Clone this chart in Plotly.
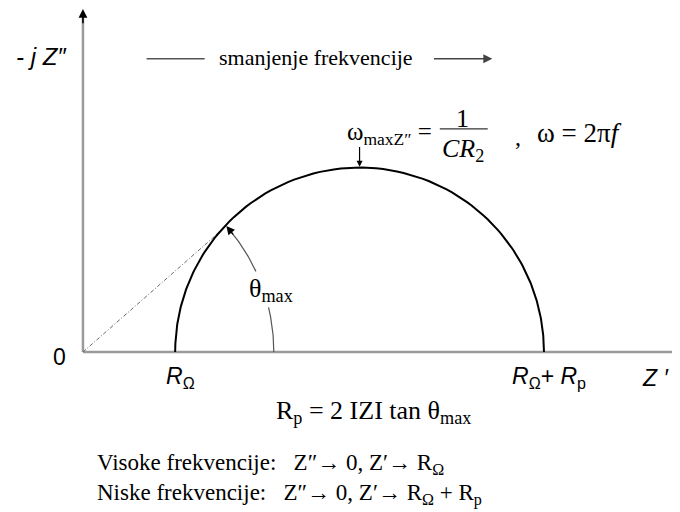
import numpy as np
import plotly.graph_objects as go

# equivalent circuit values (arbitrary units)
r_omega = 1.0          # R_Omega
r_p = 4.0              # R_p
cap = 1e-3             # C
theta_max_deg = 41.3   # angle of the dashed line
theta_arc_r = 2.07     # radius of the theta arc
theta_arc_gap = [13.5, 25.0]
theta_arc_end = 40.5

# frequencies for the Nyquist curve
omega = np.logspace(-3, 7, 600)

SANS = "Liberation Sans, Arial, sans-serif"
SERIF = "Liberation Serif, Times New Roman, serif"
NB = "\u00a0"

# impedance of R_omega + (R_p || C)
z = r_omega + r_p / (1 + 1j * omega * r_p * cap)
z_re = z.real
z_im = -z.imag

fig = go.Figure()

# axes
fig.add_trace(go.Scatter(x=[0, 0], y=[0, 3.66], mode='lines',
                         line=dict(color='#9a9a9a', width=2.5), hoverinfo='skip'))
fig.add_trace(go.Scatter(x=[0, 7], y=[0, 0], mode='lines',
                         line=dict(color='#9a9a9a', width=2.5), hoverinfo='skip'))

# dashed line to the curve
th = np.deg2rad(theta_max_deg)
c0 = r_omega + r_p / 2
rad = r_p / 2
b = -2 * c0 * np.cos(th)
cc = c0 ** 2 - rad ** 2
disc = max(b ** 2 - 4 * cc, 0)
t_hit = (-b - np.sqrt(disc)) / 2
fig.add_trace(go.Scatter(x=[0, t_hit * np.cos(th)], y=[0, t_hit * np.sin(th)],
                         mode='lines', line=dict(color='#6a6a6a', width=1, dash='4px,2px,1px,2px'),
                         hoverinfo='skip'))

# Nyquist semicircle
fig.add_trace(go.Scatter(x=z_re, y=z_im, mode='lines',
                         line=dict(color='black', width=2), hoverinfo='skip'))

# theta arc (two pieces, gap for the label)
for a0, a1 in [(0, theta_arc_gap[0]), (theta_arc_gap[1], theta_arc_end)]:
    ang = np.deg2rad(np.linspace(a0, a1, 40))
    fig.add_trace(go.Scatter(x=theta_arc_r * np.cos(ang), y=theta_arc_r * np.sin(ang),
                             mode='lines', line=dict(color='#555555', width=1.2),
                             hoverinfo='skip'))

anns = []
# arrow heads
anns.append(dict(x=0, y=3.72, ax=0, ay=3.55, xref='x', yref='y', axref='x', ayref='y',
                 showarrow=True, arrowhead=2, arrowsize=1.1, arrowwidth=1.6,
                 arrowcolor='black', text=''))
a_head = np.deg2rad(theta_arc_end + 0.8)
a_tail = np.deg2rad(theta_arc_end - 3)
anns.append(dict(x=theta_arc_r * np.cos(a_head), y=theta_arc_r * np.sin(a_head),
                 ax=theta_arc_r * np.cos(a_tail), ay=theta_arc_r * np.sin(a_tail),
                 xref='x', yref='y', axref='x', ayref='y',
                 showarrow=True, arrowhead=2, arrowsize=1.2, arrowwidth=1.4,
                 arrowcolor='black', text=''))
# arrow to the top of the semicircle
anns.append(dict(x=c0, y=rad + 0.01, ax=c0, ay=rad + 0.24, xref='x', yref='y',
                 axref='x', ayref='y', showarrow=True, arrowhead=2, arrowsize=1,
                 arrowwidth=1.2, arrowcolor='black', text=''))
# "smanjenje frekvencije" arrows
fig.add_trace(go.Scatter(x=[0.69, 1.32], y=[3.18, 3.18], mode='lines',
                         line=dict(color='#555555', width=1.5), hoverinfo='skip'))
anns.append(dict(x=4.44, y=3.18, ax=3.79, ay=3.18, xref='x', yref='y', axref='x',
                 ayref='y', showarrow=True, arrowhead=2, arrowsize=1.2, arrowwidth=1.5,
                 arrowcolor='#444444', text=''))


def txt(x, y, s, size, font=SERIF, xanchor='center', color='black'):
    anns.append(dict(x=x, y=y, xref='x', yref='y', text=s, showarrow=False,
                     xanchor=xanchor, yanchor='middle',
                     font=dict(family=font, size=size, color=color)))


txt(-0.45, 3.20, "<i>- j Z\u2033</i>", 24, SANS)
txt(2.53, 3.19, "smanjenje frekvencije", 22)
txt(-0.25, -0.05, "0", 23, SANS)
txt(r_omega + 0.06, -0.28, "<i>R</i><sub>\u03a9</sub>", 23, SANS)
txt(r_omega + r_p + 0.05, -0.28, "<i>R</i><sub>\u03a9</sub>+ <i>R</i><sub>p</sub>", 23, SANS)
txt(6.20, -0.28, "<i>Z" + NB + "\u2032</i>", 23, SANS)
txt(3.15, -0.65, "R<sub>p</sub> = 2 IZI tan \u03b8<sub>max</sub>", 26)
txt(0.13, -1.21, "Visoke frekvencije:" + NB * 3 + "Z\u2033\u2192 0, Z\u2032\u2192 R<sub>\u03a9</sub>", 23,
    xanchor='left')
txt(0.13, -1.54, "Niske frekvencije:" + NB * 3 + "Z\u2033\u2192 0, Z\u2032\u2192 R<sub>\u03a9</sub> + R<sub>p</sub>", 23,
    xanchor='left')
txt(2.04, 0.67, "\u03b8<sub>max</sub>", 26)

# omega formula
txt(3.81, 2.37, "\u03c9<sub>maxZ\u2033</sub> =", 25, xanchor='right')
txt(4.12, 2.53, "1", 26)
txt(4.12, 2.19, "<i>CR</i><sub>2</sub>", 26)
txt(4.72, 2.33, ",", 24)
txt(4.90, 2.37, "\u03c9 = 2\u03c0<i>f</i>", 27, xanchor='left')
fig.add_shape(type='line', x0=3.87, x1=4.39, y0=2.42, y1=2.42, xref='x', yref='y',
              line=dict(color='#333333', width=1.3))

# ranges shifted 8px to allow for the page margin
fig.update_layout(
    width=680, height=512,
    margin=dict(l=0, r=0, t=0, b=0),
    paper_bgcolor='white', plot_bgcolor='white',
    showlegend=False,
    xaxis=dict(range=[-0.813, 6.562], visible=False, fixedrange=True),
    yaxis=dict(range=[-1.822, 3.731], visible=False, fixedrange=True),
    annotations=anns)

fig.write_html("out.html")
